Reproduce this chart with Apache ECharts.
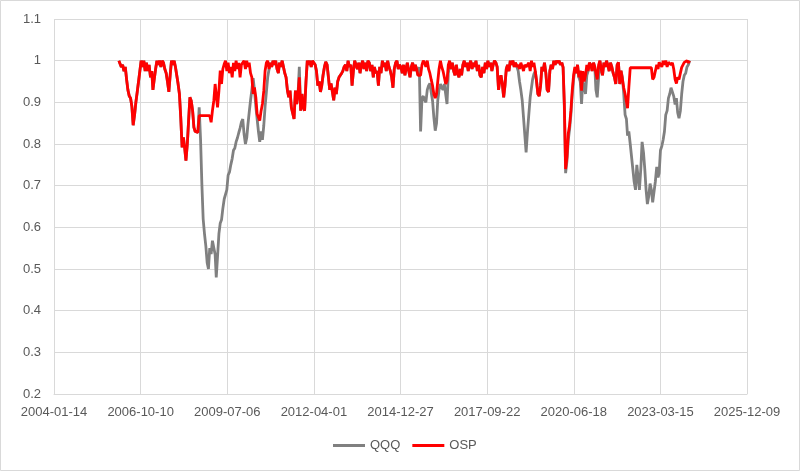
<!DOCTYPE html>
<html><head><meta charset="utf-8">
<script src="https://cdn.jsdelivr.net/npm/echarts@6.0.0/dist/echarts.min.js"></script>
<style>html,body{margin:0;padding:0;background:#fff}#c{width:800px;height:471px}</style>
</head><body><div id="c"></div>
<script>
// x-axis tick labels (1000-day steps from 2004-01-14)
const xTickLabels = ['2004-01-14','2006-10-10','2009-07-06','2012-04-01','2014-12-27','2017-09-22','2020-06-18','2023-03-15','2025-12-09'];
const yTickLabels = ['0.2','0.3','0.4','0.5','0.6','0.7','0.8','0.9','1','1.1'];
const seriesNames = ['QQQ','OSP'];
const firstYear = 2006;
// semi-monthly observations (1st and 16th of each month), one array per year
const osp2006 = [null,null,1.0,1.0,0.985,0.99,0.975,0.985,0.955,0.93,0.915,0.91,0.89,0.845,0.87,0.9,0.925,0.95,0.975,1.0,0.985,1.0,0.975,0.995];
const osp2007 = [0.975,0.99,0.96,0.975,0.93,0.955,0.98,1.0,0.99,1.0,0.985,1.0,0.995,0.98,0.97,0.95,0.925,0.965,1.0,0.99,1.0,0.985,0.965,0.945];
const osp2008 = [0.92,0.864,0.792,0.816,0.792,0.76,0.8,0.856,0.912,0.904,0.88,0.84,0.83,0.828,0.828,0.868,0.868,0.868,0.868,0.868,0.868,0.868,0.868,0.868];
const osp2009 = [0.852,0.88,0.904,0.944,0.944,0.888,0.928,0.976,0.944,0.98,0.992,1.0,0.975,0.995,0.97,0.985,0.96,0.995,0.975,1.0,0.98,0.995,0.96,0.99];
const osp2010 = [0.99,1.0,0.98,1.0,0.985,0.995,0.97,0.96,0.92,0.936,0.912,0.872,0.87,0.856,0.88,0.896,0.928,0.976,0.995,1.0,0.98,0.995,0.985,1.0];
const osp2011 = [0.99,1.0,0.98,0.97,0.995,0.985,1.0,0.985,0.97,0.96,0.928,0.912,0.928,0.888,0.884,0.86,0.928,0.896,0.92,0.96,0.88,0.92,0.888,0.88];
const osp2012 = [0.95,1.0,0.99,1.0,0.985,1.0,1.0,0.99,0.975,0.94,0.95,0.925,0.94,0.965,0.985,0.997,0.99,0.96,0.93,0.945,0.925,0.905,0.935,0.92];
const osp2013 = [0.95,0.96,0.957,0.97,0.975,0.985,0.99,0.975,1.0,0.985,0.99,0.94,0.975,1.0,0.99,0.98,0.995,0.97,0.99,1.0,0.98,0.995,0.975,1.0];
const osp2014 = [0.995,0.975,0.99,0.96,0.985,0.97,0.975,0.94,0.985,0.97,1.0,0.985,0.995,0.975,1.0,0.985,0.975,0.96,0.935,0.98,0.995,1.0,0.98,0.99];
const osp2015 = [0.985,0.97,0.99,0.965,0.98,0.995,0.975,0.96,0.985,0.995,0.975,0.99,0.98,0.965,0.965,0.965,0.99,1.0,0.995,0.985,1.0,0.98,0.97,0.955];
const osp2016 = [0.94,0.92,0.91,0.92,0.95,0.98,1.0,0.985,0.975,0.96,0.944,0.952,0.99,1.0,0.98,0.995,0.975,0.965,0.99,0.97,0.96,0.98,0.965,0.99];
const osp2017 = [1.0,0.985,0.995,0.975,0.99,1.0,0.98,0.995,0.985,1.0,0.975,0.99,0.965,0.96,0.985,0.97,0.995,0.98,1.0,0.985,0.995,0.975,0.99,1.0];
const osp2018 = [0.995,0.985,0.93,0.955,0.965,0.945,0.912,0.94,0.98,0.99,0.975,1.0,0.99,1.0,0.985,0.995,0.985,0.99,0.98,0.995,0.985,0.975,0.99,0.985];
const osp2019 = [0.985,0.995,0.975,1.0,0.985,0.995,0.975,0.95,0.92,0.915,0.94,0.985,0.975,0.995,0.97,0.93,0.925,0.975,0.99,0.98,1.0,0.99,1.0,0.995];
const osp2020 = [1.0,0.99,0.995,0.984,0.9,0.74,0.77,0.825,0.845,0.88,0.93,0.965,0.985,0.97,0.99,0.96,0.976,0.928,0.975,0.95,0.965,0.99,0.975,0.995];
const osp2021 = [0.99,0.975,0.995,0.985,0.97,0.955,0.99,1.0,0.98,0.965,0.995,0.985,1.0,0.99,0.975,0.995,0.985,0.97,0.96,0.944,0.99,0.996,0.944,0.976];
const osp2022 = [0.976,0.935,0.92,0.92,0.886,0.936,0.983,0.983,0.983,0.983,0.983,0.983,0.983,0.983,0.983,0.983,0.983,0.983,0.983,0.983,0.983,0.983,0.983,0.955];
const osp2023 = [0.96,0.975,0.99,0.98,0.996,1.0,0.985,1.0,0.99,1.0,0.985,0.996,1.0,0.99,0.995,0.98,0.955,0.945,0.96,0.955,0.97,0.984,0.99,0.996];
const osp2024 = [0.996,1.0,0.995,1.0];

const qqq2006 = [null,null,1.0,1.0,0.985,0.99,0.975,0.985,0.955,0.93,0.915,0.91,0.89,0.845,0.87,0.9,0.925,0.95,0.975,1.0,0.985,1.0,0.975,0.995];
const qqq2007 = [0.975,0.99,0.96,0.975,0.93,0.955,0.98,1.0,0.99,1.0,0.985,1.0,0.995,0.98,0.97,0.95,0.925,0.965,1.0,0.99,1.0,0.985,0.965,0.945];
const qqq2008 = [0.92,0.864,0.792,0.816,0.792,0.76,0.8,0.856,0.912,0.904,0.88,0.84,0.83,0.828,0.828,0.888,0.81,0.704,0.62,0.585,0.555,0.515,0.5,0.55];
const qqq2009 = [0.536,0.568,0.57,0.535,0.48,0.53,0.585,0.61,0.618,0.645,0.668,0.668,0.69,0.725,0.733,0.75,0.765,0.785,0.79,0.805,0.815,0.827,0.838,0.852];
const qqq2010 = [0.86,0.824,0.8,0.815,0.845,0.875,0.905,0.93,0.958,0.93,0.89,0.86,0.83,0.805,0.83,0.81,0.845,0.89,0.925,0.96,0.98,0.995,0.985,1.0];
const qqq2011 = [0.99,1.0,0.98,0.97,0.995,0.985,1.0,0.985,0.97,0.96,0.928,0.912,0.928,0.888,0.884,0.86,0.928,0.896,0.92,0.985,0.88,0.92,0.888,0.88];
const qqq2012 = [0.95,1.0,0.99,1.0,0.985,1.0,1.0,0.99,0.975,0.94,0.95,0.925,0.94,0.965,0.985,0.997,0.99,0.96,0.93,0.945,0.925,0.905,0.935,0.92];
const qqq2013 = [0.95,0.96,0.957,0.97,0.975,0.985,0.99,0.975,1.0,0.985,0.99,0.94,0.975,1.0,0.99,0.98,0.995,0.97,0.99,1.0,0.98,0.995,0.975,1.0];
const qqq2014 = [0.995,0.975,0.99,0.96,0.985,0.97,0.975,0.94,0.985,0.97,1.0,0.985,0.995,0.975,1.0,0.985,0.975,0.96,0.935,0.98,0.995,1.0,0.98,0.99];
const qqq2015 = [0.985,0.97,0.99,0.965,0.98,0.995,0.975,0.96,0.985,0.995,0.975,0.99,0.98,0.965,0.985,0.83,0.91,0.915,0.905,0.9,0.93,0.94,0.945,0.925];
const qqq2016 = [0.904,0.864,0.832,0.85,0.904,0.93,0.944,0.935,0.93,0.944,0.94,0.896,0.97,0.99,0.98,0.995,0.975,0.965,0.99,0.97,0.96,0.98,0.965,0.99];
const qqq2017 = [1.0,0.985,0.995,0.975,0.99,1.0,0.98,0.995,0.985,1.0,0.975,0.99,0.965,0.96,0.985,0.97,0.995,0.98,1.0,0.985,0.995,0.975,0.99,1.0];
const qqq2018 = [0.995,0.985,0.93,0.955,0.965,0.945,0.912,0.94,0.98,0.99,0.975,1.0,0.99,1.0,0.985,0.995,0.985,0.975,0.95,0.93,0.905,0.864,0.86,0.78];
const qqq2019 = [0.83,0.87,0.912,0.935,0.955,0.968,0.975,0.95,0.92,0.915,0.94,0.985,0.975,0.995,0.97,0.93,0.925,0.975,0.99,0.98,1.0,0.99,1.0,0.995];
const qqq2020 = [1.0,0.99,0.995,0.984,0.89,0.73,0.76,0.81,0.835,0.87,0.92,0.955,0.98,0.97,0.99,0.96,0.95,0.896,0.95,0.94,0.92,0.965,0.975,0.995];
const qqq2021 = [0.99,0.975,0.995,0.985,0.93,0.912,0.96,1.0,0.98,0.965,0.995,0.985,1.0,0.99,0.975,0.995,0.985,0.97,0.96,0.944,0.99,0.996,0.944,0.976];
const qqq2022 = [0.96,0.92,0.87,0.86,0.82,0.83,0.8,0.77,0.74,0.71,0.69,0.75,0.72,0.69,0.74,0.805,0.78,0.74,0.69,0.656,0.675,0.705,0.69,0.66];
const qqq2023 = [0.66,0.71,0.745,0.72,0.73,0.785,0.795,0.81,0.83,0.87,0.88,0.91,0.92,0.935,0.935,0.915,0.895,0.91,0.875,0.862,0.88,0.92,0.95,0.965];
const qqq2024 = [0.97,0.985,0.99,1.0];

const ospYears = [osp2006,osp2007,osp2008,osp2009,osp2010,osp2011,osp2012,osp2013,osp2014,osp2015,osp2016,osp2017,osp2018,osp2019,osp2020,osp2021,osp2022,osp2023,osp2024];
const qqqYears = [qqq2006,qqq2007,qqq2008,qqq2009,qqq2010,qqq2011,qqq2012,qqq2013,qqq2014,qqq2015,qqq2016,qqq2017,qqq2018,qqq2019,qqq2020,qqq2021,qqq2022,qqq2023,qqq2024];

const T0 = Date.UTC(2004,0,14);
function toPoints(years){
  const out = [];
  years.forEach((vals,k)=>{
    const yr = firstYear + k;
    vals.forEach((v,i)=>{
      if (v === null) return;
      const m = Math.floor(i/2), d = (i%2) ? 16 : 1;
      out.push([(Date.UTC(yr,m,d)-T0)/86400000, v]);
    });
  });
  return out;
}

const FONT = 'Liberation Sans, Arial, sans-serif';
const chart = echarts.init(document.getElementById('c'), null, {renderer:'canvas'});
chart.setOption({
  animation:false,
  backgroundColor:'#fff',
  graphic:[{type:'rect',shape:{x:0.5,y:0.5,width:799,height:470},style:{fill:'none',stroke:'#d9d9d9',lineWidth:1},silent:true}],
  grid:{left:54,right:53,top:19,bottom:77,containLabel:false},
  legend:{
    data:seriesNames, left:333, top:439, padding:0, icon:'rect', itemWidth:32, itemHeight:3, itemGap:12,
    textStyle:{color:'#595959',fontSize:13,fontFamily:FONT}
  },
  xAxis:{
    type:'value', min:0, max:8000, interval:1000,
    axisLine:{show:true,onZero:false,lineStyle:{color:'#d9d9d9',width:1}},
    axisTick:{show:false},
    splitLine:{show:true,lineStyle:{color:'#d9d9d9',width:1}},
    axisLabel:{color:'#595959',fontSize:13,fontFamily:FONT,margin:12,
      formatter:(v)=>xTickLabels[Math.round(v/1000)] || ''}
  },
  yAxis:{
    type:'value', min:0.2, max:1.1, interval:0.1,
    axisLine:{show:false}, axisTick:{show:false},
    splitLine:{show:true,lineStyle:{color:'#d9d9d9',width:1}},
    axisLabel:{color:'#595959',fontSize:13,fontFamily:FONT,margin:13,
      formatter:(v)=>yTickLabels[Math.round((v-0.2)*10)] || ''}
  },
  series:[
    {name:seriesNames[0],type:'line',data:toPoints(qqqYears),showSymbol:false,symbol:'none',
      lineStyle:{color:'#808080',width:2.8},itemStyle:{color:'#808080'}},
    {name:seriesNames[1],type:'line',data:toPoints(ospYears),showSymbol:false,symbol:'none',
      lineStyle:{color:'#ff0000',width:2.8},itemStyle:{color:'#ff0000'}}
  ]
});
</script></body></html>
